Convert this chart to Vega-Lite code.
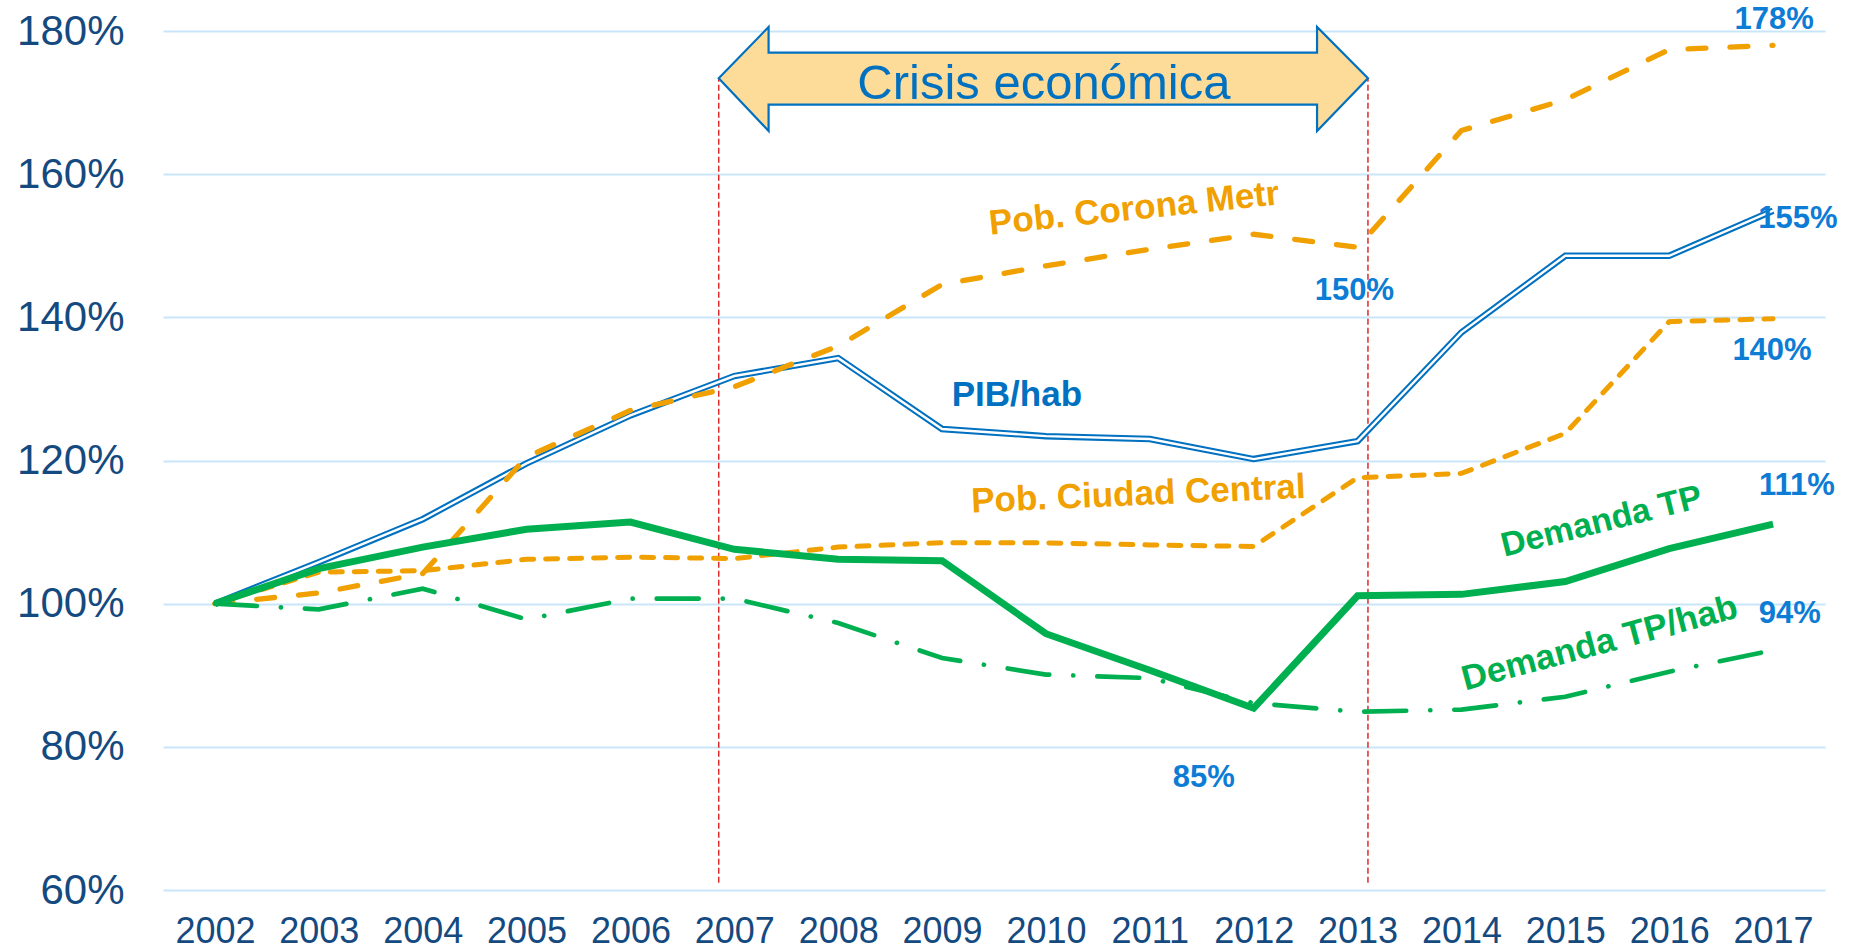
{
  "$schema": "https://vega.github.io/schema/vega-lite/v6.json",
  "width": 1662,
  "height": 859,
  "autosize": {"type": "none"},
  "padding": {"left": 163, "top": 31, "right": 43, "bottom": 60},
  "background": "white",
  "config": {"view": {"stroke": null}},
  "datasets": {
    "series": [
      {"year": 2002, "serie": "pib", "v": 100}, {"year": 2003, "serie": "pib", "v": 105.8}, {"year": 2004, "serie": "pib", "v": 111.8}, {"year": 2005, "serie": "pib", "v": 119.6}, {"year": 2006, "serie": "pib", "v": 126.3}, {"year": 2007, "serie": "pib", "v": 131.8}, {"year": 2008, "serie": "pib", "v": 134.3}, {"year": 2009, "serie": "pib", "v": 124.4}, {"year": 2010, "serie": "pib", "v": 123.4}, {"year": 2011, "serie": "pib", "v": 123.0}, {"year": 2012, "serie": "pib", "v": 120.2}, {"year": 2013, "serie": "pib", "v": 122.7}, {"year": 2014, "serie": "pib", "v": 137.9}, {"year": 2015, "serie": "pib", "v": 148.6}, {"year": 2016, "serie": "pib", "v": 148.6}, {"year": 2017, "serie": "pib", "v": 154.9},
      {"year": 2002, "serie": "corona", "v": 100}, {"year": 2003, "serie": "corona", "v": 101.5}, {"year": 2004, "serie": "corona", "v": 104.2}, {"year": 2005, "serie": "corona", "v": 120.5}, {"year": 2006, "serie": "corona", "v": 127.0}, {"year": 2007, "serie": "corona", "v": 130.3}, {"year": 2008, "serie": "corona", "v": 136.0}, {"year": 2009, "serie": "corona", "v": 144.6}, {"year": 2010, "serie": "corona", "v": 147.2}, {"year": 2011, "serie": "corona", "v": 149.5}, {"year": 2012, "serie": "corona", "v": 151.6}, {"year": 2013, "serie": "corona", "v": 149.8}, {"year": 2014, "serie": "corona", "v": 166.1}, {"year": 2015, "serie": "corona", "v": 170.4}, {"year": 2016, "serie": "corona", "v": 177.4}, {"year": 2017, "serie": "corona", "v": 178.0},
      {"year": 2002, "serie": "ciudad", "v": 100}, {"year": 2003, "serie": "ciudad", "v": 104.4}, {"year": 2004, "serie": "ciudad", "v": 104.6}, {"year": 2005, "serie": "ciudad", "v": 106.2}, {"year": 2006, "serie": "ciudad", "v": 106.5}, {"year": 2007, "serie": "ciudad", "v": 106.3}, {"year": 2008, "serie": "ciudad", "v": 107.9}, {"year": 2009, "serie": "ciudad", "v": 108.5}, {"year": 2010, "serie": "ciudad", "v": 108.5}, {"year": 2011, "serie": "ciudad", "v": 108.2}, {"year": 2012, "serie": "ciudad", "v": 108.0}, {"year": 2013, "serie": "ciudad", "v": 117.6}, {"year": 2014, "serie": "ciudad", "v": 118.2}, {"year": 2015, "serie": "ciudad", "v": 123.8}, {"year": 2016, "serie": "ciudad", "v": 139.4}, {"year": 2017, "serie": "ciudad", "v": 139.8},
      {"year": 2002, "serie": "tphab", "v": 100}, {"year": 2003, "serie": "tphab", "v": 99.2}, {"year": 2004, "serie": "tphab", "v": 102.1}, {"year": 2005, "serie": "tphab", "v": 97.8}, {"year": 2006, "serie": "tphab", "v": 100.7}, {"year": 2007, "serie": "tphab", "v": 100.7}, {"year": 2008, "serie": "tphab", "v": 97.3}, {"year": 2009, "serie": "tphab", "v": 92.4}, {"year": 2010, "serie": "tphab", "v": 90.1}, {"year": 2011, "serie": "tphab", "v": 89.6}, {"year": 2012, "serie": "tphab", "v": 86.1}, {"year": 2013, "serie": "tphab", "v": 84.9}, {"year": 2014, "serie": "tphab", "v": 85.2}, {"year": 2015, "serie": "tphab", "v": 87.0}, {"year": 2016, "serie": "tphab", "v": 90.5}, {"year": 2017, "serie": "tphab", "v": 93.5},
      {"year": 2002, "serie": "tp", "v": 100}, {"year": 2003, "serie": "tp", "v": 104.9}, {"year": 2004, "serie": "tp", "v": 107.9}, {"year": 2005, "serie": "tp", "v": 110.4}, {"year": 2006, "serie": "tp", "v": 111.4}, {"year": 2007, "serie": "tp", "v": 107.6}, {"year": 2008, "serie": "tp", "v": 106.2}, {"year": 2009, "serie": "tp", "v": 106.0}, {"year": 2010, "serie": "tp", "v": 95.8}, {"year": 2011, "serie": "tp", "v": 90.7}, {"year": 2012, "serie": "tp", "v": 85.4}, {"year": 2013, "serie": "tp", "v": 101.1}, {"year": 2014, "serie": "tp", "v": 101.3}, {"year": 2015, "serie": "tp", "v": 103.1}, {"year": 2016, "serie": "tp", "v": 107.7}, {"year": 2017, "serie": "tp", "v": 111.1}
    ],
    "arrow": [
      {"i": 0, "year": 2006.85, "v": 173.4}, {"i": 1, "year": 2007.33, "v": 180.56}, {"i": 2, "year": 2007.33, "v": 176.98}, {"i": 3, "year": 2012.61, "v": 176.98}, {"i": 4, "year": 2012.61, "v": 180.56}, {"i": 5, "year": 2013.1, "v": 173.4}, {"i": 6, "year": 2012.61, "v": 166.04}, {"i": 7, "year": 2012.61, "v": 169.72}, {"i": 8, "year": 2007.33, "v": 169.72}, {"i": 9, "year": 2007.33, "v": 166.04}
    ],
    "values": [
      {"text": "178%", "year": 2017.01, "v": 181.6}, {"text": "155%", "year": 2017.24, "v": 153.7}, {"text": "150%", "year": 2012.97, "v": 143.7}, {"text": "140%", "year": 2016.99, "v": 135.3}, {"text": "111%", "year": 2017.23, "v": 116.5}, {"text": "94%", "year": 2017.16, "v": 98.5}, {"text": "85%", "year": 2011.52, "v": 75.6}
    ]
  },
  "encoding": {
    "x": {"field": "year", "type": "quantitative",
      "scale": {"domain": [2001.5, 2017.5], "nice": false, "zero": false},
      "axis": {"values": [2002, 2003, 2004, 2005, 2006, 2007, 2008, 2009, 2010, 2011, 2012, 2013, 2014, 2015, 2016, 2017], "format": "d", "title": null, "grid": false, "domain": false, "ticks": false, "labelFontSize": 36, "labelColor": "#154A80", "labelFont": "Liberation Sans", "labelPadding": 24, "labelFlush": false, "labelOverlap": false}},
    "y": {"field": "v", "type": "quantitative",
      "scale": {"domain": [60, 180], "nice": false, "zero": false},
      "axis": {"values": [60, 80, 100, 120, 140, 160, 180], "labelExpr": "datum.value + '%'", "title": null, "grid": true, "gridColor": "#C9E5FA", "gridWidth": 2, "domain": false, "ticks": false, "labelFontSize": 42, "labelColor": "#154A80", "labelFont": "Liberation Sans", "labelPadding": 39}}
  },
  "layer": [
    {"data": {"values": [{"year": 2006.85, "v": 61.0, "v2": 173.4}, {"year": 2013.1, "v": 61.0, "v2": 173.4}]},
      "mark": {"type": "rule", "color": "#DD2C2C", "strokeWidth": 1.5, "strokeDash": [6, 3]},
      "encoding": {"y2": {"field": "v2"}}},
    {"data": {"name": "arrow"},
      "mark": {"type": "line", "interpolate": "linear-closed", "fill": "#FDDC9A", "stroke": "#0070C0", "strokeWidth": 2.2, "strokeJoin": "miter"},
      "encoding": {"order": {"field": "i", "type": "quantitative"}}},
    {"data": {"values": [{"year": 2009.98, "v": 170.56, "text": "Crisis económica"}]},
      "mark": {"type": "text", "font": "Liberation Sans", "fontSize": 49, "color": "#0070C0", "baseline": "alphabetic", "align": "center"},
      "encoding": {"text": {"field": "text"}}},
    {"data": {"name": "series"}, "transform": [{"filter": "datum.serie == 'pib'"}],
      "mark": {"type": "line", "color": "#0070C0", "strokeWidth": 6.5}},
    {"data": {"name": "series"}, "transform": [{"filter": "datum.serie == 'pib'"}],
      "mark": {"type": "line", "color": "white", "strokeWidth": 2.4}},
    {"data": {"name": "series"}, "transform": [{"filter": "datum.serie == 'corona'"}],
      "mark": {"type": "line", "color": "#F0A000", "strokeWidth": 5.3, "strokeDash": [18, 24], "strokeCap": "round"}},
    {"data": {"name": "series"}, "transform": [{"filter": "datum.serie == 'ciudad'"}],
      "mark": {"type": "line", "color": "#F0A000", "strokeWidth": 5, "strokeDash": [12, 12], "strokeCap": "round"}},
    {"data": {"name": "series"}, "transform": [{"filter": "datum.serie == 'tphab'"}],
      "mark": {"type": "line", "color": "#00B050", "strokeWidth": 4.7, "strokeDash": [42, 24, 0.1, 24], "strokeCap": "round"}},
    {"data": {"name": "series"}, "transform": [{"filter": "datum.serie == 'tp'"}],
      "mark": {"type": "line", "color": "#00B050", "strokeWidth": 7}},
    {"data": {"values": [{"year": 2010.85, "v": 155.2, "text": "Pob. Corona Metr"}]},
      "mark": {"type": "text", "font": "Liberation Sans", "fontWeight": "bold", "fontSize": 35, "color": "#F0A000", "angle": -6, "baseline": "middle", "align": "center"},
      "encoding": {"text": {"field": "text"}}},
    {"data": {"values": [{"year": 2009.72, "v": 129.1, "text": "PIB/hab"}]},
      "mark": {"type": "text", "font": "Liberation Sans", "fontWeight": "bold", "fontSize": 35, "color": "#0070C0", "baseline": "middle", "align": "center"},
      "encoding": {"text": {"field": "text"}}},
    {"data": {"values": [{"year": 2010.89, "v": 115.3, "text": "Pob. Ciudad Central"}]},
      "mark": {"type": "text", "font": "Liberation Sans", "fontWeight": "bold", "fontSize": 35, "color": "#F0A000", "angle": -2.5, "baseline": "middle", "align": "center"},
      "encoding": {"text": {"field": "text"}}},
    {"data": {"values": [{"year": 2015.35, "v": 111.4, "text": "Demanda TP"}]},
      "mark": {"type": "text", "font": "Liberation Sans", "fontWeight": "bold", "fontSize": 34, "color": "#00B050", "angle": -14, "baseline": "middle", "align": "center"},
      "encoding": {"text": {"field": "text"}}},
    {"data": {"values": [{"year": 2015.33, "v": 94.5, "text": "Demanda TP/hab"}]},
      "mark": {"type": "text", "font": "Liberation Sans", "fontWeight": "bold", "fontSize": 35, "color": "#00B050", "angle": -15, "baseline": "middle", "align": "center"},
      "encoding": {"text": {"field": "text"}}},
    {"data": {"name": "values"},
      "mark": {"type": "text", "font": "Liberation Sans", "fontWeight": "bold", "fontSize": 31, "color": "#0C7CD5", "baseline": "middle", "align": "center"},
      "encoding": {"text": {"field": "text"}}}
  ]
}
